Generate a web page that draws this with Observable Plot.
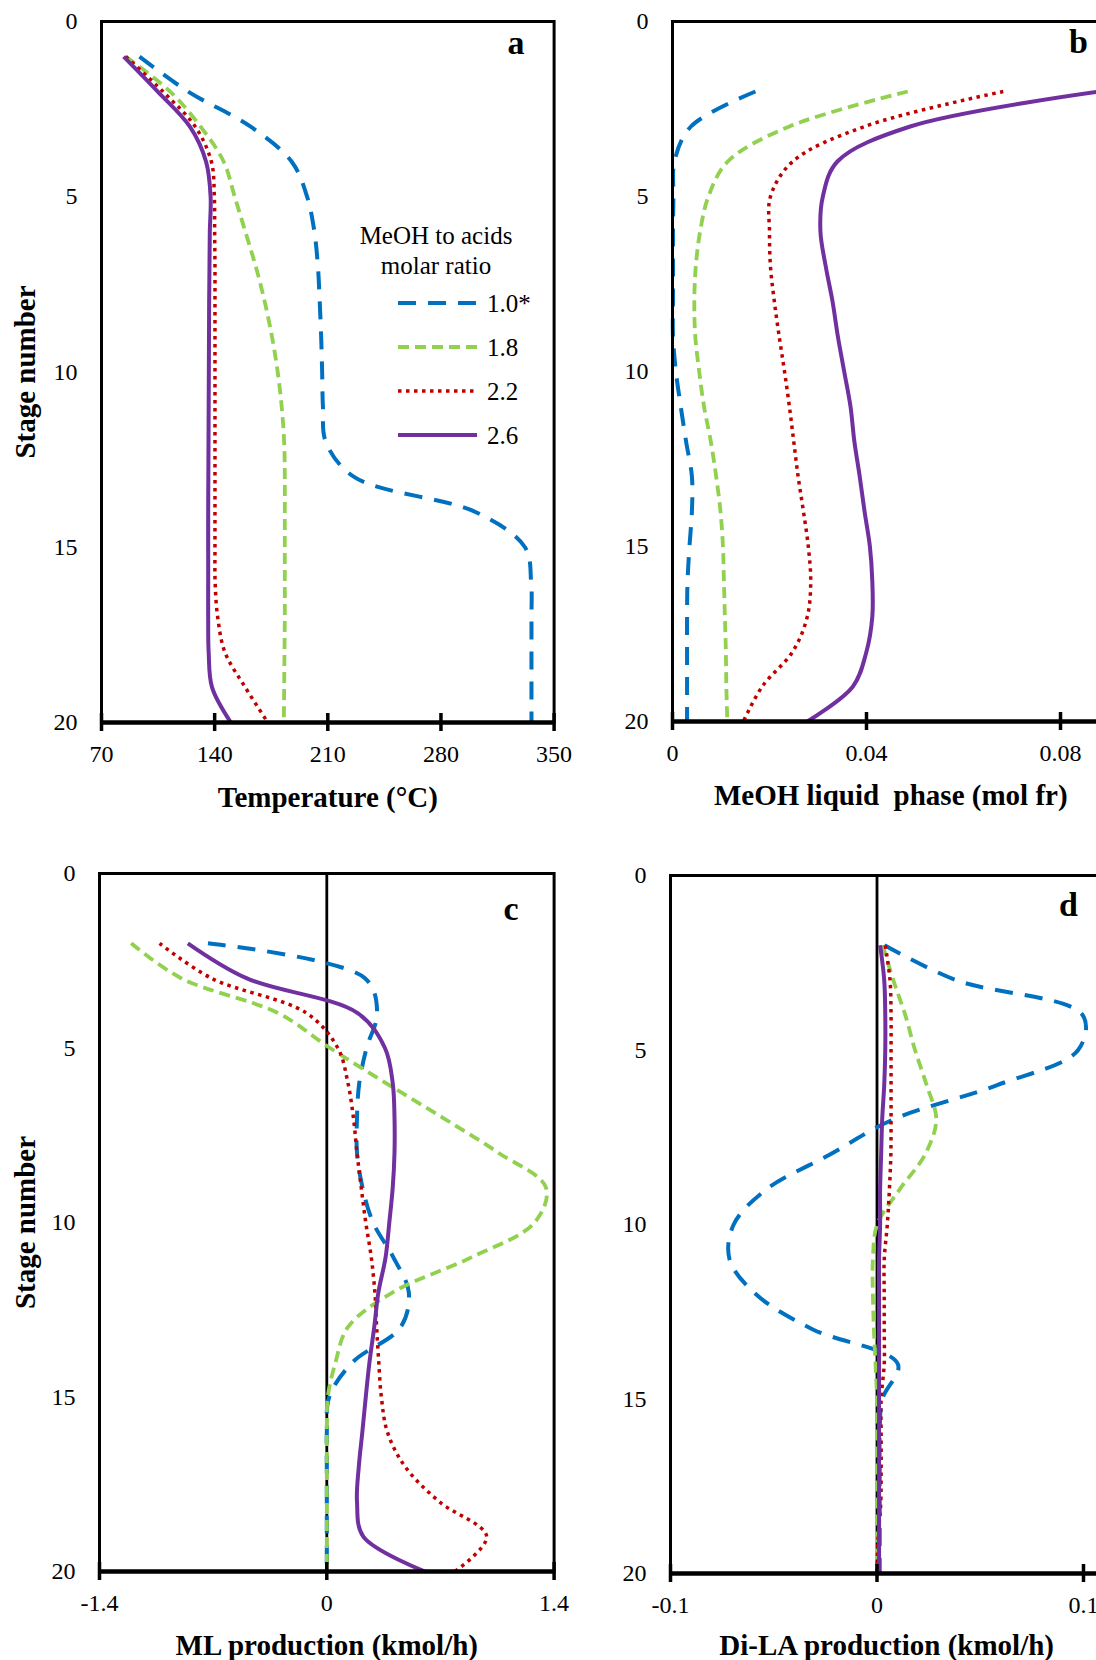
<!DOCTYPE html>
<html><head><meta charset="utf-8">
<script src="https://cdn.jsdelivr.net/npm/d3@7"></script>
<script src="https://cdn.jsdelivr.net/npm/@observablehq/plot@0.6"></script>
<style>
html,body{margin:0;padding:0;background:#fff;overflow:hidden;}
#page{position:relative;width:1096px;height:1660px;overflow:hidden;background:#fff;}
.panel{position:absolute;}
.panel svg{max-width:none !important;}
</style></head><body><div id="page"></div>
<script>
// ---------- data ----------
const seriesNames = ["1.0*", "1.8", "2.2", "2.6"];
const legendTitle = ["MeOH to acids", "molar ratio"];
const stagesA = [1,2,3,4,5,6,7,8,9,10,11,12,13,14,15,16,17,18,19,20];
const stagesBCD = [2,3,4,5,6,7,8,9,10,11,12,13,14,15,16,17,18,19,20];
const yTicks = [0, 5, 10, 15, 20];

// (a) Temperature (°C)
const tempR10 = [93.5,123.6,162.3,187.7,197.2,201.7,203.9,205,205.9,206.5,207,208.8,226.5,301.7,332,335.8,336,336,336,336];
const tempR18 = [85,112.5,131.3,145.6,152.4,159,165.5,171,175.5,179,181.5,183,183.4,183.4,183.4,183.4,183.4,183.2,183,182.8];
const tempR22 = [85,108,128,138,139.8,140,140.2,140.2,140.2,140.2,140.2,140.2,140.2,140.2,140.2,140.3,141.9,146.4,159,172.9];
const tempR26 = [83.7,104.8,124.7,134.7,137.5,137,136.8,136.6,136.5,136.4,136.3,136.2,136.1,136,136,136,136,136.3,138.4,150];
const tempTicks = [70, 140, 210, 280, 350];

// (b) MeOH liquid phase (mol fr)
const meohR10 = [0.0171,0.0038,0.0004,0.0002,0.0001,0.0001,0.0001,0.0001,0.0007,0.0017,0.0028,0.004,0.004,0.0035,0.0031,0.003,0.003,0.003,0.003];
const meohR18 = [0.0485,0.0241,0.0114,0.0074,0.0057,0.0048,0.0045,0.0047,0.0055,0.0065,0.0079,0.009,0.0099,0.0104,0.0106,0.0108,0.011,0.0111,0.0113];
const meohR22 = [0.0682,0.0396,0.0248,0.0202,0.02,0.0202,0.021,0.022,0.0231,0.0241,0.025,0.0259,0.027,0.028,0.0285,0.0278,0.0248,0.0185,0.0146];
const meohR26 = [0.088,0.049,0.034,0.031,0.0305,0.0316,0.033,0.0341,0.0354,0.0367,0.0375,0.0386,0.0396,0.0407,0.0412,0.0412,0.04,0.0372,0.0278];
const meohTicks = [0, 0.04, 0.08];

// (c) ML production (kmol/h)
const mlR10 = [-0.732,0.235,0.31,0.245,0.2,0.186,0.186,0.22,0.285,0.41,0.505,0.455,0.16,0.015,0,0,0,0,0];
const mlR18 = [-1.205,-0.897,-0.3,0.02,0.362,0.715,1.056,1.35,1.28,0.89,0.406,0.13,0.054,0.006,0,0,0,0,0];
const mlR22 = [-1.03,-0.711,-0.125,0.068,0.13,0.164,0.186,0.212,0.24,0.274,0.296,0.307,0.32,0.336,0.373,0.483,0.693,0.985,0.79];
const mlR26 = [-0.856,-0.495,0.19,0.358,0.406,0.417,0.417,0.406,0.385,0.362,0.318,0.292,0.263,0.24,0.219,0.197,0.186,0.225,0.605];
const mlTicks = [-1.4, 0, 1.4];

// (d) Di-LA production (kmol/h)
const dilaR10 = [0.0036,0.0384,0.0996,0.0974,0.0585,0.0075,-0.023,-0.0537,-0.0694,-0.0714,-0.0586,-0.0313,0.0101,0.0026,0.0013,0.0013,0.0013,0.0013,0.0013];
const dilaR18 = [0.0028,0.0079,0.0137,0.0184,0.024,0.0287,0.0232,0.0109,0.0001,-0.002,-0.002,-0.0015,-0.0007,0,0,0,0,0,0];
const dilaR22 = [0.004,0.0063,0.0068,0.0068,0.0068,0.0068,0.0067,0.006,0.005,0.0035,0.0035,0.0035,0.0035,0.002,0.002,0.002,0.0018,0.0005,0];
const dilaR26 = [0.0015,0.0035,0.004,0.004,0.0035,0.0025,0.002,0.0015,0.0015,0.001,0.001,0.001,0.001,0.001,0.001,0.001,0.001,0.001,0.001];
const dilaTicks = [-0.1, 0, 0.1];

// ---------- styles ----------
const colors = ["#0070C0", "#92D050", "#C00000", "#7030A0"];
const dashes = ["18,12", "11,6", "3.5,4.5", null];
const widths = [4, 3.8, 3.5, 4];
const FONT = '"Liberation Serif", "Times New Roman", serif';

function panel(o) {
  const marks = [];
  if (o.zeroLine) marks.push(Plot.ruleX([0], {stroke: "#000", strokeWidth: 2.8}));
  o.values.forEach((vals, i) => {
    const data = o.stages.map((s, j) => ({stage: s, v: vals[j]}));
    marks.push(Plot.line(data, {
      x: "v", y: "stage", stroke: colors[i], strokeWidth: widths[i],
      strokeDasharray: dashes[i], curve: "catmull-rom", strokeLinecap: "butt"
    }));
  });
  marks.push(Plot.frame({stroke: "#000", strokeWidth: 3}));
  marks.push(Plot.ruleY([20], {stroke: "#000", strokeWidth: 4.5}));
  marks.push(Plot.axisX(o.xTicks, {tickSize: 18, dy: -9, fill: "none", stroke: "#000", strokeWidth: 3.5, label: null}));
  marks.push(Plot.axisX(o.xTicks, {tickSize: 0, tickPadding: 22, label: null, tickFormat: d => String(d), fontSize: 24, fill: "#000"}));
  marks.push(Plot.axisY(yTicks, {tickSize: 0, tickPadding: 24, label: null, fontSize: 24, fill: "#000"}));
  marks.push(Plot.text([o.xLabel], {text: d => d, frameAnchor: "bottom", dx: o.titleDx || 0, dy: o.titleDy,
    textAnchor: "middle", lineAnchor: "middle", fontWeight: "bold", fontSize: 29, fill: "#000"}));
  if (o.yTitle) marks.push(Plot.text(["Stage number"], {text: d => d, frameAnchor: "left", dx: o.yTitleDx, rotate: -90,
    textAnchor: "middle", lineAnchor: "middle", fontWeight: "bold", fontSize: 29, fill: "#000"}));
  marks.push(Plot.text([o.letter], {text: d => d, frameAnchor: o.letterAnchor, dx: o.letterDx, dy: o.letterDy,
    textAnchor: "middle", lineAnchor: "middle", fontWeight: "bold", fontSize: 34, fill: "#000"}));
  const svg = Plot.plot({
    width: o.width, height: o.height,
    marginLeft: o.ml, marginRight: o.mr, marginTop: o.mt, marginBottom: o.mb,
    x: {domain: o.xDomain},
    y: {domain: [0, 20], reverse: true},
    style: {fontFamily: FONT, fontSize: "24px", color: "#000", background: "none", overflow: "visible", maxWidth: "none"},
    marks
  });
  const div = document.createElement("div");
  div.className = "panel";
  div.style.left = o.left + "px";
  div.style.top = o.top + "px";
  div.style.width = o.width + "px";
  div.style.height = o.height + "px";
  div.appendChild(svg);
  document.getElementById("page").appendChild(div);
}

panel({left: 0, top: 0, width: 560, height: 840, ml: 101, mr: 6.4, mt: 21, mb: 118,
  values: [tempR10, tempR18, tempR22, tempR26], stages: stagesA,
  xDomain: [70, 350], xTicks: tempTicks, xLabel: "Temperature (°C)", titleDy: 75,
  yTitle: true, yTitleDx: -76, letter: "a", letterAnchor: "top-right", letterDx: -38, letterDy: 22});

panel({left: 560, top: 0, width: 560, height: 840, ml: 112, mr: 11.5, mt: 21, mb: 119,
  values: [meohR10, meohR18, meohR22, meohR26], stages: stagesBCD,
  xDomain: [0, 0.09], xTicks: meohTicks, xLabel: "MeOH liquid\u00a0 phase (mol fr)", titleDy: 74,
  yTitle: false, letter: "b", letterAnchor: "top-left", letterDx: 406, letterDy: 21});

panel({left: 0, top: 840, width: 560, height: 820, ml: 99, mr: 6.4, mt: 33, mb: 89,
  values: [mlR10, mlR18, mlR22, mlR26], stages: stagesBCD, zeroLine: true,
  xDomain: [-1.4, 1.4], xTicks: mlTicks, xLabel: "ML production (kmol/h)", titleDy: 74,
  yTitle: true, yTitleDx: -74, letter: "c", letterAnchor: "top-right", letterDx: -43, letterDy: 36});

panel({left: 560, top: 840, width: 570, height: 820, ml: 110, mr: 5.7, mt: 35, mb: 87,
  values: [dilaR10, dilaR18, dilaR22, dilaR26], stages: stagesBCD, zeroLine: true,
  xDomain: [-0.1, 0.12], xTicks: dilaTicks, xLabel: "Di-LA production (kmol/h)", titleDx: -11, titleDy: 72,
  yTitle: false, letter: "d", letterAnchor: "top-left", letterDx: 398, letterDy: 30});

// ---------- legend (inside panel a) ----------
const leg = d3.select("#page").append("svg")
  .attr("width", 560).attr("height", 480)
  .style("position", "absolute").style("left", "0px").style("top", "0px")
  .style("font-family", FONT);
leg.selectAll("text.title").data(legendTitle).join("text")
  .attr("class", "title")
  .attr("x", 436).attr("y", (d, i) => 235 + 30 * i).attr("dy", "0.35em")
  .attr("text-anchor", "middle").attr("font-size", 25).attr("fill", "#000")
  .text(d => d);
const rows = leg.selectAll("g.row").data(seriesNames).join("g")
  .attr("class", "row")
  .attr("transform", (d, i) => `translate(0,${303 + 44 * i})`);
rows.append("line")
  .attr("x1", 398).attr("x2", 477)
  .attr("stroke", (d, i) => colors[i])
  .attr("stroke-width", (d, i) => widths[i])
  .attr("stroke-dasharray", (d, i) => dashes[i]);
rows.append("text")
  .attr("x", 487).attr("dy", "0.35em").attr("font-size", 25).attr("fill", "#000")
  .text(d => d);
</script></body></html>
